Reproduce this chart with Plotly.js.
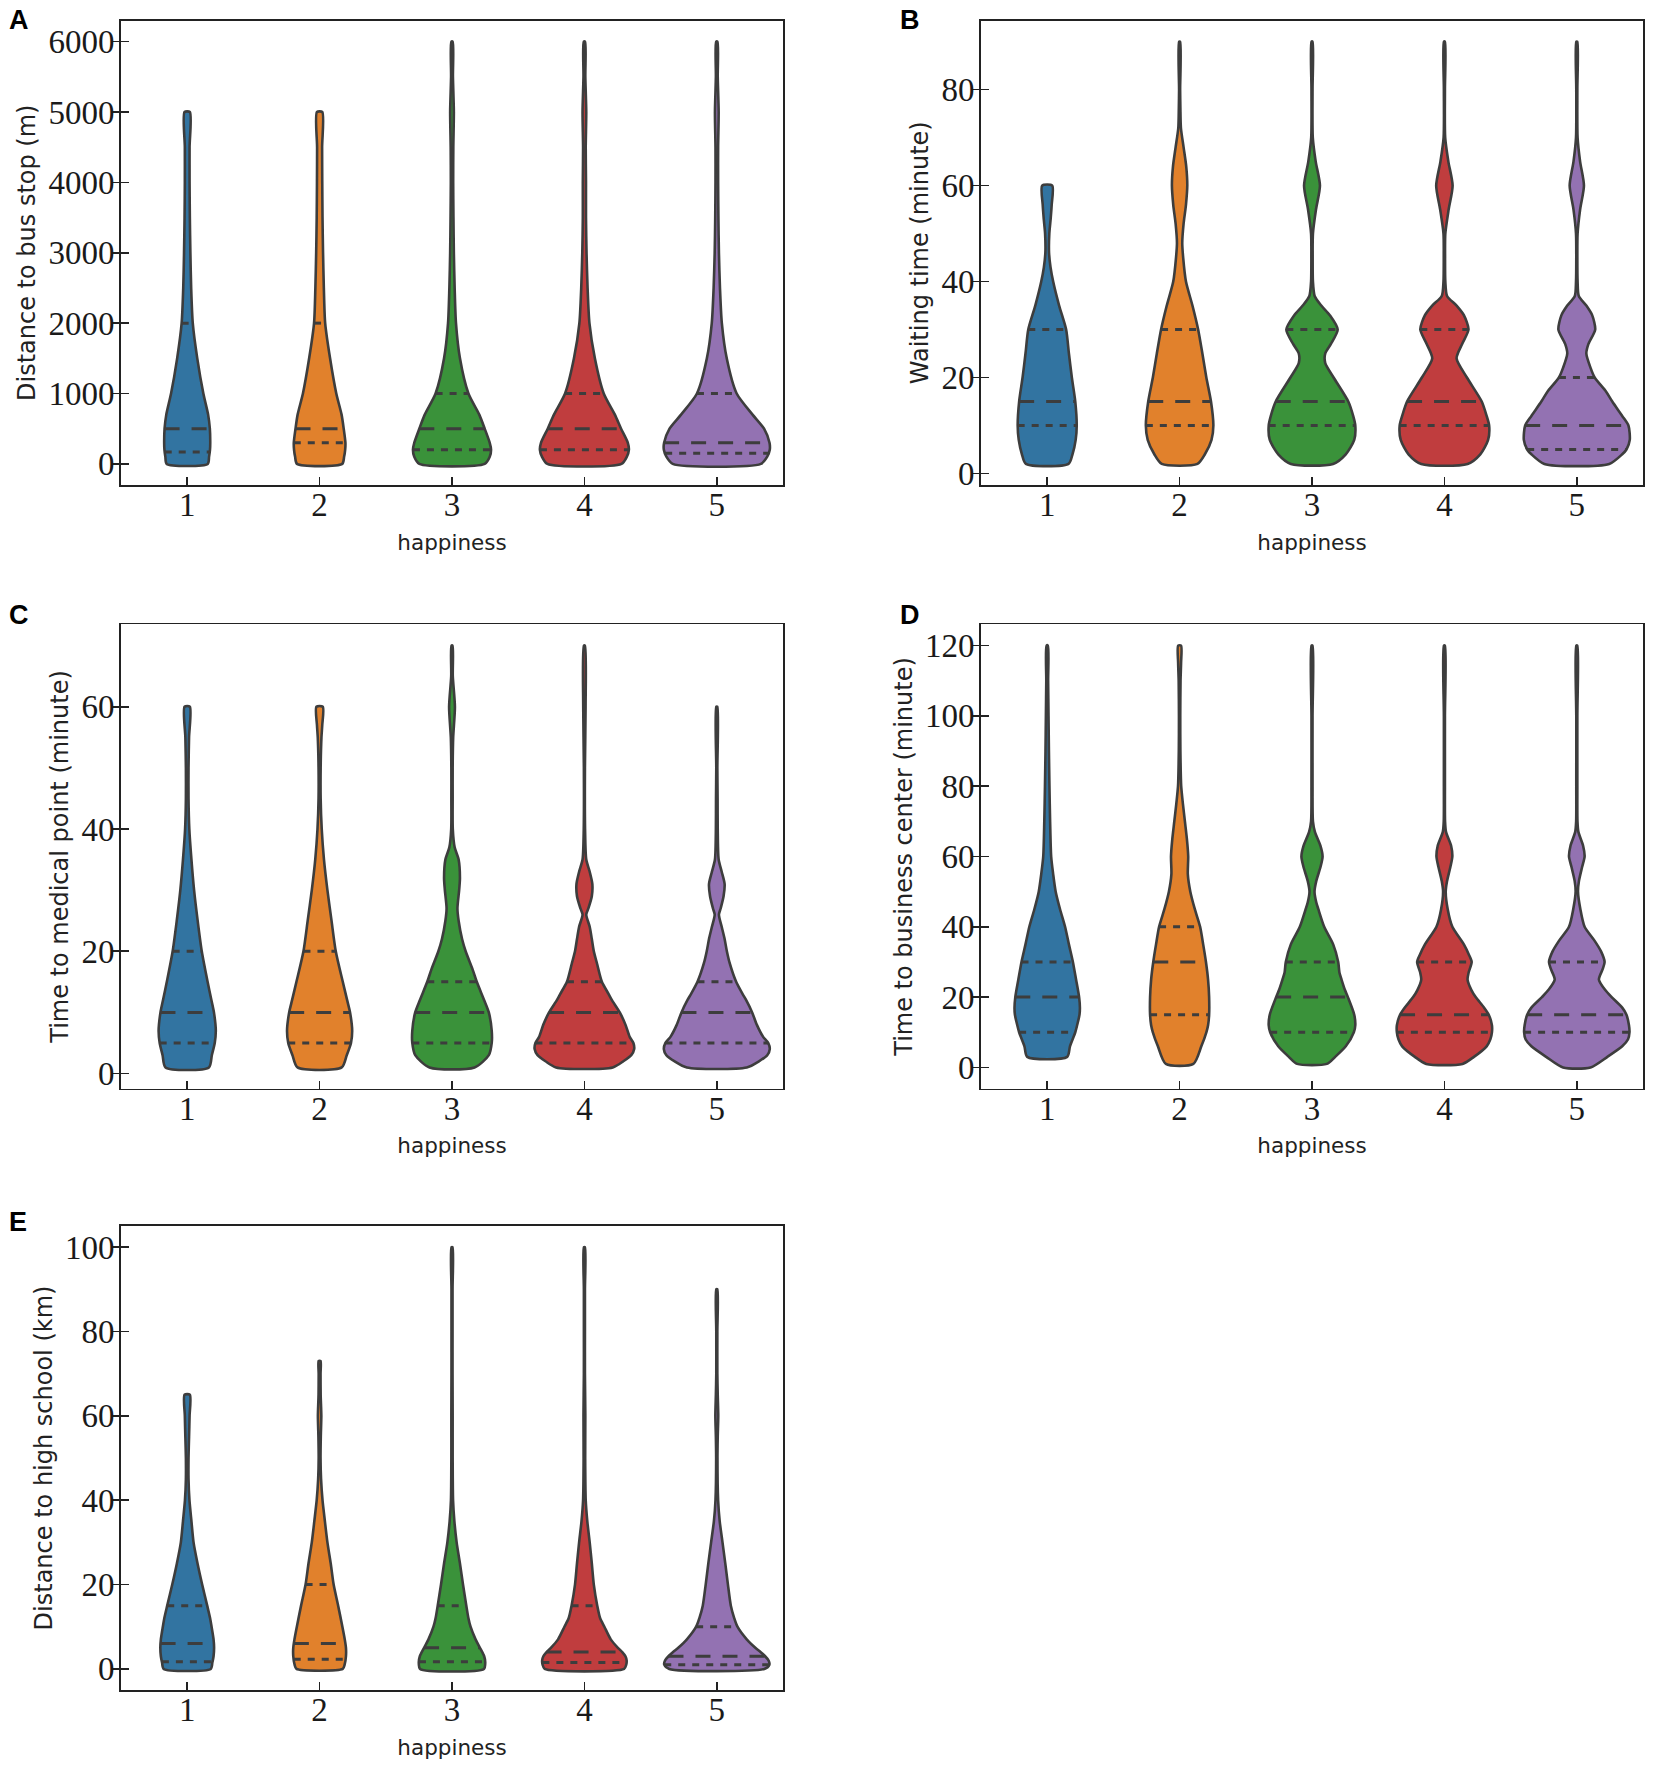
<!DOCTYPE html>
<html><head><meta charset="utf-8">
<script src="https://cdn.plot.ly/plotly-3.0.1.min.js"></script>
<style>html,body{margin:0;padding:0;background:#fff;} #chart{width:1654px;height:1769px;}</style>
</head><body><div id="chart"></div>
<script>
// ---------- categories ----------
const happiness = [1, 2, 3, 4, 5];
const happinessLabels = ['1', '2', '3', '4', '5'];

// ---------- Panel A: Distance to bus stop (m) — density profile (value levels, half-widths) ----------
const A1_y = [0, 100, 200, 300, 500, 700, 1000, 1500, 2000, 2500, 3000, 3500, 4000, 4500, 5000];
const A1_w = [0.155, 0.165, 0.172, 0.174, 0.171, 0.158, 0.122, 0.076, 0.042, 0.03, 0.024, 0.02, 0.018, 0.018, 0.02];
const A2_y = [0, 100, 200, 300, 500, 700, 1000, 1500, 2000, 2500, 3000, 3500, 4000, 4500, 5000];
const A2_w = [0.171, 0.185, 0.193, 0.195, 0.182, 0.166, 0.126, 0.079, 0.042, 0.032, 0.026, 0.022, 0.02, 0.019, 0.02];
const A3_y = [0, 100, 200, 300, 500, 700, 1000, 1500, 2000, 2500, 3000, 3500, 4000, 4500, 5000, 5500, 6000];
const A3_w = [0.247, 0.285, 0.295, 0.285, 0.247, 0.206, 0.124, 0.06, 0.03, 0.02, 0.014, 0.011, 0.009, 0.01, 0.014, 0.007, 0.005];
const A4_y = [0, 100, 200, 300, 500, 700, 1000, 1500, 2000, 2500, 3000, 3500, 4000, 4500, 5000, 5500, 6000];
const A4_w = [0.28, 0.32, 0.336, 0.328, 0.277, 0.23, 0.146, 0.079, 0.038, 0.024, 0.016, 0.012, 0.012, 0.01, 0.014, 0.007, 0.005];
const A5_y = [0, 100, 200, 300, 500, 700, 1000, 1500, 2000, 2500, 3000, 3500, 4000, 4500, 5000, 5500, 6000];
const A5_w = [0.333, 0.38, 0.40, 0.398, 0.357, 0.27, 0.15, 0.075, 0.038, 0.024, 0.016, 0.012, 0.01, 0.01, 0.014, 0.007, 0.005];
const A_q1 = [170, 300, 200, 200, 150];
const A_med = [500, 500, 500, 500, 300];
const A_q3 = [2000, 2000, 1000, 1000, 1000];
const A_ticks = [0, 1000, 2000, 3000, 4000, 5000, 6000];

// ---------- Panel B: Waiting time (minute) ----------
const B1_y = [2, 4, 7, 10, 15, 20, 25, 30, 35, 40, 43, 46, 50, 53, 56, 60];
const B1_w = [0.161, 0.191, 0.215, 0.223, 0.212, 0.186, 0.164, 0.143, 0.09, 0.045, 0.025, 0.014, 0.016, 0.026, 0.034, 0.038];
const B2_y = [2, 4, 7, 10, 15, 20, 25, 30, 35, 40, 45, 48, 52, 56, 60, 64, 68, 72, 76, 80, 90];
const B2_w = [0.135, 0.191, 0.241, 0.255, 0.237, 0.202, 0.172, 0.14, 0.097, 0.048, 0.027, 0.02, 0.03, 0.048, 0.058, 0.05, 0.03, 0.01, 0.006, 0.004, 0.004];
const B3_y = [2, 4, 7, 10, 12, 15, 20, 23, 25, 27, 30, 33, 35, 37, 40, 45, 50, 55, 60, 65, 70, 80, 90];
const B3_w = [0.159, 0.255, 0.319, 0.327, 0.311, 0.274, 0.163, 0.1, 0.1, 0.143, 0.194, 0.134, 0.07, 0.02, 0.007, 0.005, 0.007, 0.03, 0.06, 0.028, 0.006, 0.004, 0.004];
const B4_y = [2, 4, 7, 10, 12, 15, 20, 24, 27, 30, 33, 35, 37, 40, 45, 50, 55, 60, 65, 70, 80, 90];
const B4_w = [0.175, 0.271, 0.33, 0.338, 0.319, 0.282, 0.17, 0.092, 0.134, 0.182, 0.147, 0.092, 0.02, 0.007, 0.005, 0.007, 0.032, 0.062, 0.03, 0.006, 0.004, 0.004];
const B5_y = [2, 4, 5, 7, 10, 12, 15, 17, 20, 22, 25, 27, 30, 33, 35, 37, 40, 45, 50, 55, 60, 65, 70, 80, 90];
const B5_w = [0.245, 0.343, 0.375, 0.4, 0.39, 0.343, 0.268, 0.223, 0.135, 0.104, 0.072, 0.088, 0.139, 0.116, 0.072, 0.015, 0.006, 0.004, 0.006, 0.025, 0.054, 0.025, 0.006, 0.004, 0.004];
const B_q1 = [10, 10, 10, 10, 5];
const B_med = [15, 15, 15, 15, 10];
const B_q3 = [30, 30, 30, 30, 20];
const B_ticks = [0, 20, 40, 60, 80];

// ---------- Panel C: Time to medical point (minute) ----------
const C1_y = [1, 3, 5, 7, 10, 12, 15, 20, 25, 30, 35, 40, 45, 50, 55, 60];
const C1_w = [0.164, 0.186, 0.208, 0.216, 0.202, 0.183, 0.154, 0.11, 0.079, 0.052, 0.032, 0.016, 0.01, 0.01, 0.014, 0.02];
const C2_y = [1, 3, 5, 7, 10, 12, 15, 20, 25, 30, 35, 40, 45, 50, 55, 57, 60];
const C2_w = [0.167, 0.205, 0.237, 0.246, 0.23, 0.208, 0.175, 0.122, 0.09, 0.059, 0.033, 0.016, 0.008, 0.008, 0.014, 0.02, 0.024];
const C3_y = [1, 3, 5, 7, 10, 12, 15, 17, 20, 22, 25, 27, 30, 32, 35, 37, 40, 45, 50, 55, 60, 65, 70];
const C3_w = [0.17, 0.278, 0.3, 0.3, 0.278, 0.243, 0.187, 0.156, 0.103, 0.076, 0.05, 0.041, 0.054, 0.06, 0.05, 0.02, 0.006, 0.005, 0.005, 0.009, 0.022, 0.006, 0.004];
const C4_y = [1, 2, 3, 4, 5, 6, 8, 10, 12, 13, 15, 18, 20, 22, 24, 26, 27, 29, 31, 33, 35, 40, 50, 60, 70];
const C4_w = [0.214, 0.294, 0.354, 0.376, 0.37, 0.342, 0.31, 0.267, 0.208, 0.183, 0.132, 0.095, 0.071, 0.056, 0.04, 0.014, 0.03, 0.056, 0.06, 0.04, 0.014, 0.005, 0.004, 0.009, 0.004];
const C5_y = [1, 2, 3, 4, 5, 6, 8, 10, 12, 13, 15, 18, 20, 22, 24, 26, 27, 29, 31, 33, 35, 40, 45, 50, 60];
const C5_w = [0.226, 0.318, 0.381, 0.4, 0.388, 0.35, 0.302, 0.267, 0.222, 0.195, 0.146, 0.098, 0.076, 0.059, 0.037, 0.016, 0.029, 0.051, 0.059, 0.037, 0.014, 0.007, 0.006, 0.004, 0.004];
const C_q1 = [5, 5, 5, 5, 5];
const C_med = [10, 10, 10, 10, 10];
const C_q3 = [20, 20, 15, 15, 15];
const C_ticks = [0, 20, 40, 60];

// ---------- Panel D: Time to business center (minute) ----------
const D1_y = [3, 6, 10, 12, 15, 17, 20, 25, 30, 35, 40, 45, 50, 55, 60, 70, 80, 90, 100, 110, 120];
const D1_w = [0.151, 0.172, 0.212, 0.226, 0.244, 0.247, 0.241, 0.218, 0.194, 0.164, 0.135, 0.097, 0.064, 0.045, 0.03, 0.022, 0.017, 0.013, 0.01, 0.007, 0.005];
const D2_y = [1, 6, 10, 12, 15, 20, 25, 30, 35, 40, 45, 50, 55, 60, 65, 70, 75, 80, 90, 100, 110, 115, 120];
const D2_w = [0.104, 0.164, 0.202, 0.215, 0.223, 0.223, 0.215, 0.199, 0.178, 0.155, 0.115, 0.081, 0.062, 0.065, 0.055, 0.04, 0.025, 0.012, 0.006, 0.005, 0.007, 0.011, 0.011];
const D3_y = [1, 3, 6, 10, 12, 15, 20, 22, 25, 27, 30, 35, 40, 45, 47, 50, 53, 57, 60, 63, 67, 70, 80, 100, 120];
const D3_w = [0.112, 0.175, 0.255, 0.316, 0.327, 0.319, 0.271, 0.249, 0.223, 0.207, 0.198, 0.16, 0.092, 0.048, 0.032, 0.019, 0.032, 0.064, 0.08, 0.064, 0.022, 0.007, 0.004, 0.004, 0.004];
const D4_y = [1, 3, 6, 8, 10, 12, 15, 17, 20, 22, 25, 27, 30, 32, 35, 40, 45, 50, 53, 57, 60, 63, 67, 70, 80, 100, 120];
const D4_w = [0.137, 0.223, 0.319, 0.347, 0.359, 0.359, 0.335, 0.3, 0.236, 0.204, 0.175, 0.183, 0.206, 0.186, 0.147, 0.06, 0.025, 0.01, 0.02, 0.045, 0.06, 0.051, 0.012, 0.005, 0.004, 0.004, 0.004];
const D5_y = [0, 3, 6, 8, 10, 12, 15, 17, 20, 22, 25, 28, 30, 33, 36, 40, 45, 50, 53, 57, 60, 63, 67, 70, 80, 100, 120];
const D5_w = [0.104, 0.231, 0.343, 0.387, 0.398, 0.394, 0.375, 0.343, 0.263, 0.215, 0.167, 0.196, 0.21, 0.183, 0.135, 0.059, 0.027, 0.009, 0.016, 0.04, 0.059, 0.048, 0.012, 0.005, 0.004, 0.004, 0.004];
const D_q1 = [10, 15, 10, 10, 10];
const D_med = [20, 30, 20, 15, 15];
const D_q3 = [30, 40, 30, 30, 30];
const D_ticks = [0, 20, 40, 60, 80, 100, 120];

// ---------- Panel E: Distance to high school (km) ----------
const E1_y = [0, 1.5, 3, 5, 7, 10, 12, 15, 20, 25, 30, 35, 40, 45, 50, 55, 60, 65];
const E1_w = [0.178, 0.19, 0.199, 0.203, 0.199, 0.184, 0.173, 0.151, 0.113, 0.078, 0.048, 0.032, 0.017, 0.01, 0.01, 0.014, 0.018, 0.02];
const E2_y = [0, 1, 3, 5, 7, 10, 15, 20, 25, 30, 35, 40, 45, 50, 55, 60, 65, 70, 73];
const E2_w = [0.175, 0.189, 0.199, 0.199, 0.19, 0.172, 0.14, 0.106, 0.084, 0.059, 0.04, 0.022, 0.011, 0.007, 0.009, 0.013, 0.008, 0.007, 0.007];
const E3_y = [0, 1.5, 3, 5, 7, 10, 12, 15, 20, 25, 30, 35, 40, 50, 60, 70, 80, 90, 100];
const E3_w = [0.241, 0.251, 0.243, 0.211, 0.178, 0.14, 0.124, 0.108, 0.083, 0.06, 0.035, 0.018, 0.008, 0.005, 0.005, 0.004, 0.004, 0.004, 0.004];
const E4_y = [0, 1, 2, 3, 4, 5, 7, 10, 12, 15, 20, 25, 30, 35, 40, 50, 60, 70, 80, 90, 100];
const E4_w = [0.3, 0.316, 0.319, 0.31, 0.286, 0.253, 0.199, 0.151, 0.119, 0.097, 0.071, 0.056, 0.04, 0.022, 0.01, 0.006, 0.007, 0.004, 0.004, 0.004, 0.004];
const E5_y = [0, 1, 2, 3, 4, 5, 7, 10, 12, 15, 20, 25, 30, 35, 40, 50, 55, 60, 65, 70, 80, 90];
const E5_w = [0.359, 0.397, 0.391, 0.365, 0.33, 0.291, 0.226, 0.156, 0.132, 0.106, 0.084, 0.064, 0.043, 0.022, 0.01, 0.005, 0.007, 0.011, 0.007, 0.004, 0.004, 0.004];
const E_q1 = [1.7, 2.3, 1.7, 1.5, 1];
const E_med = [6, 6, 5, 4, 3];
const E_q3 = [15, 20, 15, 15, 10];
const E_ticks = [0, 20, 40, 60, 80, 100];

// ---------- styling ----------
const fillColors = ['#3274a1', '#e1812c', '#3a923a', '#c03d3e', '#9372b2'];
const edgeColor = '#3d3d3d';
const axisColor = '#222222';

const panels = [
  {key: 'A', ytitle: 'Distance to bus stop (m)', range: [-300, 6300], ticks: A_ticks,
   profiles: [[A1_y, A1_w], [A2_y, A2_w], [A3_y, A3_w], [A4_y, A4_w], [A5_y, A5_w]], q1: A_q1, med: A_med, q3: A_q3},
  {key: 'B', ytitle: 'Waiting time (minute)', range: [-2.4, 94.4], ticks: B_ticks,
   profiles: [[B1_y, B1_w], [B2_y, B2_w], [B3_y, B3_w], [B4_y, B4_w], [B5_y, B5_w]], q1: B_q1, med: B_med, q3: B_q3},
  {key: 'C', ytitle: 'Time to medical point (minute)', range: [-2.45, 73.45], ticks: C_ticks,
   profiles: [[C1_y, C1_w], [C2_y, C2_w], [C3_y, C3_w], [C4_y, C4_w], [C5_y, C5_w]], q1: C_q1, med: C_med, q3: C_q3},
  {key: 'D', ytitle: 'Time to business center (minute)', range: [-6, 126], ticks: D_ticks,
   profiles: [[D1_y, D1_w], [D2_y, D2_w], [D3_y, D3_w], [D4_y, D4_w], [D5_y, D5_w]], q1: D_q1, med: D_med, q3: D_q3},
  {key: 'E', ytitle: 'Distance to high school (km)', range: [-5, 105], ticks: E_ticks,
   profiles: [[E1_y, E1_w], [E2_y, E2_w], [E3_y, E3_w], [E4_y, E4_w], [E5_y, E5_w]], q1: E_q1, med: E_med, q3: E_q3}
];

// subplot geometry (paper fractions)
const colDomains = [[0.07316, 0.47340], [0.59311, 0.99335]];
const rowDomains = [[0.72583, 0.98841], [0.38468, 0.64698], [0.04466, 0.30695]];
const letterPos = [[0.004, 0.9985], [0.543, 0.9985], [0.004, 0.662], [0.543, 0.662], [0.004, 0.319]];

function widthAt(ys, ws, v) {
  if (v <= ys[0]) return ws[0];
  for (let i = 1; i < ys.length; i++) {
    if (v <= ys[i]) {
      const t = (v - ys[i - 1]) / (ys[i] - ys[i - 1]);
      return ws[i - 1] + t * (ws[i] - ws[i - 1]);
    }
  }
  return ws[ws.length - 1];
}

const traces = [];
const layout = {
  width: 1654, height: 1769,
  margin: {l: 0, r: 0, t: 0, b: 0},
  paper_bgcolor: '#ffffff', plot_bgcolor: '#ffffff',
  showlegend: false, hovermode: false,
  annotations: []
};

panels.forEach((p, k) => {
  const n = k + 1;
  const xa = n === 1 ? 'x' : 'x' + n;
  const ya = n === 1 ? 'y' : 'y' + n;
  const yo = 'y' + (n + 5);
  const col = k % 2, row = Math.floor(k / 2);

  p.profiles.forEach((pr, g) => {
    const c = happiness[g];
    const ys = pr[0], ws = pr[1];
    const xs = [], yy = [];
    for (let i = 0; i < ys.length; i++) { xs.push(c + ws[i]); yy.push(ys[i]); }
    for (let i = ys.length - 1; i >= 0; i--) { xs.push(c - ws[i]); yy.push(ys[i]); }
    xs.push(c + ws[0]); yy.push(ys[0]);
    traces.push({
      type: 'scatter', mode: 'lines', x: xs, y: yy, xaxis: xa, yaxis: ya,
      fill: 'toself', fillcolor: fillColors[g],
      line: {color: edgeColor, width: 2.6, shape: 'spline', smoothing: 0.7},
      hoverinfo: 'skip'
    });
    [[p.q1[g], '7px,7px'], [p.med[g], '15px,12px'], [p.q3[g], '7px,7px']].forEach(([v, dash]) => {
      const w = widthAt(ys, ws, v);
      traces.push({
        type: 'scatter', mode: 'lines', x: [c - w, c + w], y: [v, v], xaxis: xa, yaxis: ya,
        line: {color: edgeColor, width: 3, dash: dash}, hoverinfo: 'skip'
      });
    });
  });
  // empty trace so the overlay tick axis exists
  traces.push({type: 'scatter', mode: 'lines', x: [], y: [], xaxis: xa, yaxis: yo, hoverinfo: 'skip'});

  const xKey = n === 1 ? 'xaxis' : 'xaxis' + n;
  const yKey = n === 1 ? 'yaxis' : 'yaxis' + n;
  layout[xKey] = {
    domain: colDomains[col], anchor: ya, range: [0.5, 5.5],
    tickmode: 'array', tickvals: happiness, ticktext: happinessLabels,
    ticks: 'inside', ticklen: 8, tickwidth: 1.6, tickcolor: axisColor, ticklabelstandoff: -10,
    showline: true, mirror: true, linecolor: axisColor, linewidth: 1.8,
    showgrid: false, zeroline: false, fixedrange: true,
    tickfont: {family: 'Liberation Serif, Times New Roman, serif', size: 33, color: '#1a1a1a'},
    title: {text: 'happiness', standoff: 12, font: {family: 'DejaVu Sans, sans-serif', size: 21.5, color: '#222'}}
  };
  layout[yKey] = {
    domain: rowDomains[row], anchor: xa, range: p.range,
    tickmode: 'array', tickvals: p.ticks,
    ticks: 'outside', ticklen: 8, tickwidth: 1.6, tickcolor: axisColor, ticklabelstandoff: -10,
    showline: true, mirror: true, linecolor: axisColor, linewidth: 1.8,
    showgrid: false, zeroline: false, fixedrange: true,
    tickfont: {family: 'Liberation Serif, Times New Roman, serif', size: 33, color: '#1a1a1a'},
    title: {text: p.ytitle, standoff: 6, font: {family: 'DejaVu Sans, sans-serif', size: 24, color: '#222'}}
  };
  layout['yaxis' + (n + 5)] = {
    overlaying: ya, anchor: xa, side: 'left', range: p.range,
    tickmode: 'array', tickvals: p.ticks,
    ticks: 'inside', ticklen: 8, tickwidth: 1.6, tickcolor: axisColor,
    showticklabels: false, showline: false, showgrid: false, zeroline: false, fixedrange: true
  };
  layout.annotations.push({
    xref: 'paper', yref: 'paper', x: letterPos[k][0], y: letterPos[k][1],
    xanchor: 'left', yanchor: 'top', showarrow: false, text: '<b>' + p.key + '</b>',
    font: {family: 'Liberation Sans, Arial, sans-serif', size: 27, color: '#000'}
  });
});

Plotly.newPlot('chart', traces, layout, {staticPlot: true, displayModeBar: false});
</script></body></html>
